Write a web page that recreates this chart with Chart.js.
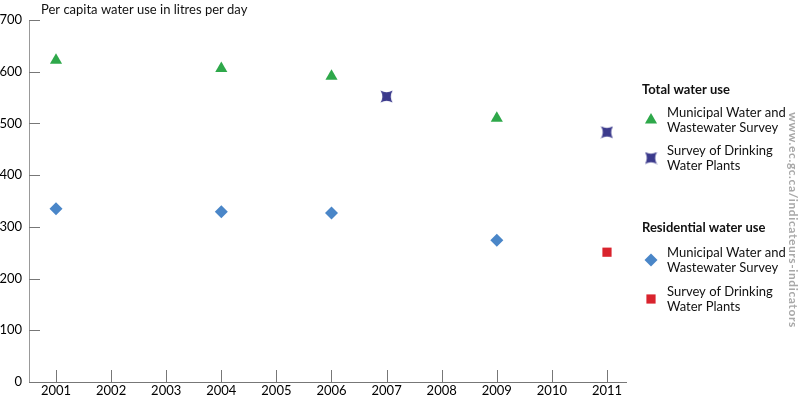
<!DOCTYPE html>
<html>
<head>
<meta charset="utf-8">
<script src="https://cdn.jsdelivr.net/npm/chart.js@4.4.0/dist/chart.umd.min.js"></script>
<style>
    html, body { margin: 0; padding: 0; background: #fff; }
    #wrap { width: 800px; height: 400px; position: relative; }
</style>
</head>
<body>
<div id="wrap"><canvas id="waterChart" width="800" height="400"></canvas></div>
<script>
// ------------------ DONNÉES ------------------
const years = [2001, 2002, 2003, 2004, 2005, 2006, 2007, 2008, 2009, 2010, 2011];
const yTicks = [0, 100, 200, 300, 400, 500, 600, 700];

const totalMwwsYears = [2001, 2004, 2006, 2009];
const totalMwwsValues = [622, 606, 591, 510];
const totalDwpYears = [2007, 2011];
const totalDwpValues = [552, 483];
const resMwwsYears = [2001, 2004, 2006, 2009];
const resMwwsValues = [335, 329, 327, 274];
const resDwpYears = [2011];
const resDwpValues = [251];

const titleText = 'Per capita water use in litres per day';
const sourceText = 'www.ec.gc.ca/indicateurs-indicators';

const FONT = "Lato, 'Open Sans', sans-serif";

// Étoile à 4 branches (marqueur "Survey of Drinking Water Plants")
function makeStar(color) {
    const c = document.createElement('canvas');
    c.width = 13; c.height = 13;
    const g = c.getContext('2d');
    g.fillStyle = color;
    g.beginPath();
    g.moveTo(0.5, 0.5);
    g.quadraticCurveTo(6.5, 4, 12.5, 0.5);
    g.quadraticCurveTo(9, 6.5, 12.5, 12.5);
    g.quadraticCurveTo(6.5, 9, 0.5, 12.5);
    g.quadraticCurveTo(4, 6.5, 0.5, 0.5);
    g.fill();
    return c;
}
const star = makeStar('#3b3a8c');

const toPoints = (xs, ys) => xs.map((x, i) => ({ x: x, y: ys[i] }));

// ------------------ PLUGIN : ticks intérieurs, titre, légende ------------------
const decorPlugin = {
    id: 'decor',
    afterDraw(chart) {
        const ctx = chart.ctx;
        const xs = chart.scales.x, ys = chart.scales.y;
        const area = chart.chartArea;
        ctx.save();

        // Ticks vers l'intérieur
        ctx.strokeStyle = '#777';
        ctx.lineWidth = 1;
        yTicks.forEach(v => {
            const py = Math.round(ys.getPixelForValue(v)) + 0.5;
            ctx.beginPath();
            ctx.moveTo(area.left, py);
            ctx.lineTo(area.left + 11, py);
            ctx.stroke();
        });
        years.forEach(v => {
            const px = Math.round(xs.getPixelForValue(v)) + 0.5;
            ctx.beginPath();
            ctx.moveTo(px, area.bottom);
            ctx.lineTo(px, area.bottom - 12);
            ctx.stroke();
        });

        // Titre de l'axe
        ctx.fillStyle = '#111';
        ctx.font = '13px ' + FONT;
        ctx.textAlign = 'left';
        ctx.textBaseline = 'middle';
        ctx.fillText(titleText, area.left + 12, 10);

        // Légende
        const lx = 642, mx = 651, tx = 667;
        const drawMarker = (style, radius, color, y) => {
            ctx.fillStyle = color;
            ctx.strokeStyle = color;
            Chart.helpers.drawPoint(ctx, { pointStyle: style, radius: radius, rotation: 0, borderWidth: 0 }, mx, y);
        };
        const groups = [
            { title: 'Total water use', y: 90, items: [
                { style: 'triangle', radius: 7, color: '#2ea84a', lines: ['Municipal Water and', 'Wastewater Survey'], y: 120 },
                { style: star, radius: 6, color: '#3b3a8c', lines: ['Survey of Drinking', 'Water Plants'], y: 158 }
            ]},
            { title: 'Residential water use', y: 228, items: [
                { style: 'rectRot', radius: 6.5, color: '#4a86c8', lines: ['Municipal Water and', 'Wastewater Survey'], y: 260 },
                { style: 'rect', radius: 6.5, color: '#d9232d', lines: ['Survey of Drinking', 'Water Plants'], y: 299 }
            ]}
        ];
        groups.forEach(g => {
            ctx.fillStyle = '#111';
            ctx.font = 'bold 13px ' + FONT;
            ctx.textAlign = 'left';
            ctx.textBaseline = 'middle';
            ctx.fillText(g.title, lx, g.y);
            g.items.forEach(it => {
                drawMarker(it.style, it.radius, it.color, it.y);
                ctx.fillStyle = '#111';
                ctx.font = '13px ' + FONT;
                ctx.textAlign = 'left';
                ctx.textBaseline = 'middle';
                ctx.fillText(it.lines[0], tx, it.y - 7);
                ctx.fillText(it.lines[1], tx, it.y + 8);
            });
        });

        // Source verticale
        ctx.translate(793, 220);
        ctx.rotate(Math.PI / 2);
        ctx.fillStyle = '#a8a8a8';
        ctx.font = 'bold 12px ' + FONT;
        ctx.letterSpacing = '0.6px';
        ctx.textAlign = 'center';
        ctx.textBaseline = 'middle';
        ctx.fillText(sourceText, 0, 0);

        ctx.restore();
    }
};

// ------------------ GRAPHIQUE ------------------
const ctx = document.getElementById('waterChart').getContext('2d');
new Chart(ctx, {
    type: 'scatter',
    data: {
        datasets: [
            { label: 'Total - MWWS', data: toPoints(totalMwwsYears, totalMwwsValues),
              pointStyle: 'triangle', pointRadius: 7, backgroundColor: '#2ea84a', borderWidth: 0 },
            { label: 'Total - DWP', data: toPoints(totalDwpYears, totalDwpValues),
              pointStyle: star, pointRadius: 6, backgroundColor: '#3b3a8c', borderWidth: 0 },
            { label: 'Residential - MWWS', data: toPoints(resMwwsYears, resMwwsValues),
              pointStyle: 'rectRot', pointRadius: 6.5, backgroundColor: '#4a86c8', borderWidth: 0 },
            { label: 'Residential - DWP', data: toPoints(resDwpYears, resDwpValues),
              pointStyle: 'rect', pointRadius: 6.5, backgroundColor: '#d9232d', borderWidth: 0 }
        ]
    },
    options: {
        responsive: false,
        animation: false,
        layout: { padding: { top: 20, right: 174, bottom: 0, left: 0 } },
        plugins: {
            legend: { display: false },
            tooltip: { enabled: false }
        },
        scales: {
            x: {
                type: 'linear',
                min: 2000.51,
                max: 2011.345,
                afterBuildTicks: scale => { scale.ticks = years.map(v => ({ value: v })); },
                afterFit: scale => { scale.height = 18; },
                grid: { display: false, drawTicks: false },
                border: { display: true, color: '#777', width: 1 },
                ticks: {
                    color: '#000',
                    padding: 1,
                    maxRotation: 0,
                    autoSkip: false,
                    font: { family: FONT, size: 13 },
                    callback: v => String(v)
                }
            },
            y: {
                min: 0,
                max: 700,
                afterBuildTicks: scale => { scale.ticks = yTicks.map(v => ({ value: v })); },
                afterFit: scale => { scale.width = 29; },
                grid: { display: false, drawTicks: false },
                border: { display: true, color: '#999', width: 1 },
                ticks: {
                    color: '#000',
                    padding: 7,
                    font: { family: FONT, size: 13 }
                }
            }
        }
    },
    plugins: [decorPlugin]
});
</script>
</body>
</html>
